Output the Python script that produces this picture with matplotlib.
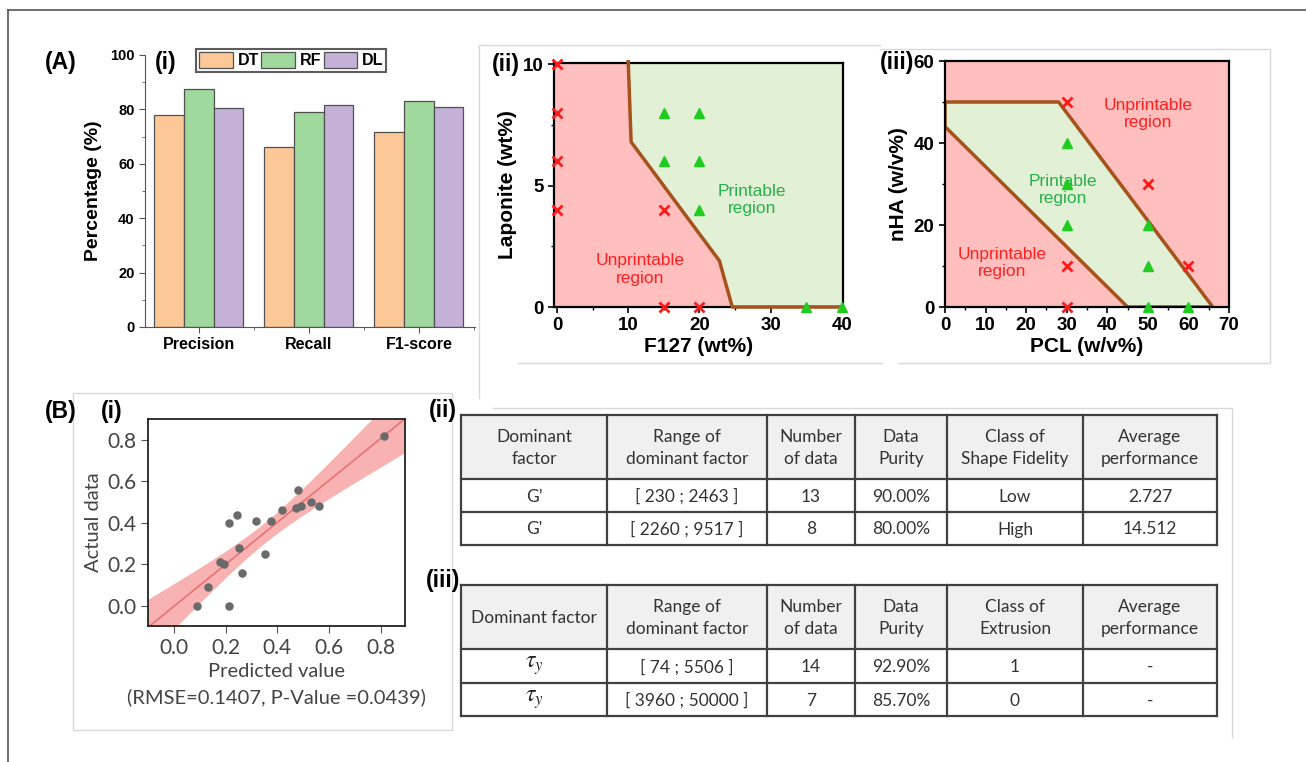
import numpy as np
import matplotlib
matplotlib.use("Agg")
import matplotlib.pyplot as plt
from matplotlib.patches import Rectangle, Polygon
from matplotlib.ticker import MultipleLocator, FormatStrFormatter

plt.rcParams['font.family'] = ['Liberation Sans', 'DejaVu Sans']
plt.rcParams['mathtext.fontset'] = 'stix'

# ---- (A)(i) model scores
metrics = ["Precision", "Recall", "F1-score"]
models = ["DT", "RF", "DL"]
dt_scores = [78.0, 66.1, 71.8]
rf_scores = [87.5, 79.2, 83.1]
dl_scores = [80.4, 81.6, 80.8]

# ---- (A)(ii) F127 / Laponite printability
f127_fail = [0, 0, 0, 0, 15, 15, 20]
lap_fail = [10, 8, 6, 4, 4, 0, 0]
f127_ok = [15, 20, 15, 20, 20, 35, 40]
lap_ok = [8, 8, 6, 6, 4, 0, 0]
f127_edge = [10, 10.4, 22.8, 24.6, 40]
lap_edge = [10.1, 6.8, 1.9, 0, 0]

# ---- (A)(iii) PCL / nHA printability
pcl_fail = [30, 50, 60, 30, 30]
nha_fail = [50, 30, 10, 10, 0]
pcl_ok = [30, 30, 30, 50, 50, 50, 60]
nha_ok = [40, 30, 20, 20, 10, 0, 0]
pcl_edge = [0, 28, 66, 45, 0]
nha_edge = [50, 50, 0, 0, 44]

# ---- (B)(i) predicted vs actual
pred_vals = [0.088, 0.130, 0.178, 0.193, 0.213, 0.214, 0.245, 0.250, 0.265, 0.317,
             0.352, 0.375, 0.416, 0.471, 0.479, 0.493, 0.528, 0.560, 0.810]
actual_vals = [0.00, 0.09, 0.21, 0.20, 0.40, 0.00, 0.44, 0.28, 0.16, 0.41,
               0.25, 0.41, 0.46, 0.47, 0.56, 0.48, 0.50, 0.48, 0.82]
t_crit = 2.11

# ---- (B)(ii)/(iii) tables
fidelity_header = ["Dominant\nfactor", "Range of\ndominant factor", "Number\nof data",
                   "Data\nPurity", "Class of\nShape Fidelity", "Average\nperformance"]
fidelity_rows = [["G\u2019", "[ 230 ; 2463 ]", "13", "90.00%", "Low", "2.727"],
                 ["G'", "[ 2260 ; 9517 ]", "8", "80.00%", "High", "14.512"]]
extrusion_header = ["Dominant factor", "Range of\ndominant factor", "Number\nof data",
                    "Data\nPurity", "Class of\nExtrusion", "Average\nperformance"]
extrusion_rows = [[r"$\tau_y$", "[ 74 ; 5506 ]", "14", "92.90%", "1", "-"],
                  [r"$\tau_y$", "[ 3960 ; 50000 ]", "7", "85.70%", "0", "-"]]

W, H = 1306, 762
fig = plt.figure(figsize=(W / 100, H / 100), dpi=100)


def box(l, t, r, b):
    return [l / W, 1 - b / H, (r - l) / W, (b - t) / H]


# background layer for frames and tables (pixel coordinates)
bg = fig.add_axes([0, 0, 1, 1], zorder=0)
bg.set_xlim(0, W)
bg.set_ylim(H, 0)
bg.axis('off')

frame = '#d9d9d9'
bg.plot([8, 8], [10, H], color='#555555', lw=1.2)
bg.plot([8, W], [10, 10], color='#555555', lw=1.2)
bg.add_patch(Rectangle((73, 393), 379, 337, fill=False, ec=frame, lw=1))
bg.plot([493, 1232, 1232], [408, 408, 737], color=frame, lw=1)
bg.plot([479, 479], [45, 398], color=frame, lw=1)
bg.plot([518, 882], [363, 363], color=frame, lw=1)
bg.plot([480, 880], [45, 45], color=frame, lw=1)
bg.plot([880, 1270, 1270, 898], [49, 49, 363, 363], color=frame, lw=1)

col_edges = [461, 607, 767, 855, 947, 1083, 1217]


def draw_table(top, heights, header, rows):
    ys = np.cumsum([top] + heights)
    txt = dict(fontsize=12.5, color='#333333', ha='center', va='center',
               family=['Lato', 'DejaVu Sans'], linespacing=1.45)
    bg.add_patch(Rectangle((col_edges[0], ys[0]), col_edges[-1] - col_edges[0],
                           ys[1] - ys[0], fc='#f0f0f0', ec='none'))
    for r, cells in enumerate([header] + rows):
        yc = (ys[r] + ys[r + 1]) / 2
        for c, s in enumerate(cells):
            xc = (col_edges[c] + col_edges[c + 1]) / 2
            if s.startswith('$'):
                bg.text(xc, yc, s, fontsize=17, color='#222222', ha='center', va='center')
            else:
                bg.text(xc, yc + 1, s, **txt)
    for y in ys:
        bg.plot([col_edges[0], col_edges[-1]], [y, y], color='#404040', lw=1.6)
    for x in col_edges:
        bg.plot([x, x], [ys[0], ys[-1]], color='#404040', lw=1.6)


draw_table(415, [64, 33, 33], fidelity_header, fidelity_rows)
draw_table(585, [64, 34, 33], extrusion_header, extrusion_rows)

# ---- (A)(i) bar chart
ax1 = fig.add_axes(box(145, 55, 475, 327), zorder=2)
x = np.arange(len(metrics))
bw = 0.27
colors = ['#fdc898', '#9fd99d', '#c3b1d8']
for i, (vals, name, c) in enumerate(zip([dt_scores, rf_scores, dl_scores], models, colors)):
    ax1.bar(x + (i - 1) * bw, vals, bw, color=c, edgecolor='#505050', lw=0.9, label=name)
ax1.set_xlim(-0.49, 2.51)
ax1.set_ylim(0, 100)
ax1.set_xticks(x)
ax1.set_xticklabels(metrics, fontsize=11.5, fontweight='bold')
ax1.xaxis.set_minor_locator(MultipleLocator(0.5))
ax1.set_yticks(range(0, 101, 20))
ax1.yaxis.set_minor_locator(MultipleLocator(10))
for t in ax1.get_yticklabels():
    t.set_fontweight('bold')
    t.set_fontsize(10.5)
ax1.set_ylabel("Percentage (%)", fontsize=14, fontweight='bold', labelpad=6)
for s in ['top', 'right']:
    ax1.spines[s].set_visible(False)
for s in ['left', 'bottom']:
    ax1.spines[s].set_color('#555555')
ax1.tick_params(which='major', length=4, color='#555555')
ax1.tick_params(which='minor', length=2.5, color='#555555')
leg = ax1.legend(loc='upper left', bbox_to_anchor=(0.155, 1.022), ncol=3,
                 prop={'weight': 'bold', 'size': 11.5}, frameon=True, fancybox=False,
                 handlelength=2.1, handleheight=1.1, columnspacing=0.15, handletextpad=0.3,
                 borderpad=0.2, borderaxespad=0)
leg.get_frame().set_edgecolor('#333333')
leg.get_frame().set_linewidth(1.5)
for p in leg.get_patches():
    p.set_edgecolor('#505050')

red_fill = '#ffbfbf'
green_fill = '#e2f0d6'
edge_col = '#a5521c'
ok_col = '#1fcc1f'
fail_col = '#ff1a1a'
reg_green = '#28b04a'
reg_red = '#ff2020'


def style_map(ax):
    for s in ax.spines.values():
        s.set_linewidth(1.6)
        s.set_color('black')
    ax.tick_params(which='major', direction='out', length=4, width=1.2, labelsize=13.5)
    ax.tick_params(which='minor', direction='out', length=2.5, width=1.0)
    for t in ax.get_xticklabels() + ax.get_yticklabels():
        t.set_fontweight('bold')


# ---- (A)(ii)
ax2 = fig.add_axes(box(554, 63, 843, 307), zorder=2)
ax2.set_facecolor(green_fill)
xl, yl = (-0.42, 40.14), (0, 10.05)
ax2.add_patch(Polygon([(xl[0], yl[0]), (xl[0], yl[1])] + list(zip(f127_edge[:4], lap_edge[:4])),
                      closed=True, fc=red_fill, ec='none'))
ax2.plot(f127_edge, lap_edge, color=edge_col, lw=2.5, clip_on=False, zorder=3)
ax2.plot(f127_fail, lap_fail, 'x', color=fail_col, ms=7, mew=2, clip_on=False, zorder=4)
ax2.plot(f127_ok, lap_ok, '^', color=ok_col, ms=6.5, mec=ok_col, clip_on=False, zorder=4)
ax2.text(27.4, 4.4, "Printable\nregion", color=reg_green, fontsize=12.5, ha='center', va='center')
ax2.text(11.7, 1.55, "Unprintable\nregion", color=reg_red, fontsize=12.5, ha='center', va='center')
ax2.set_xlim(*xl)
ax2.set_ylim(*yl)
ax2.set_xticks(range(0, 41, 10))
ax2.set_yticks([0, 5, 10])
ax2.xaxis.set_minor_locator(MultipleLocator(5))
ax2.yaxis.set_minor_locator(MultipleLocator(2.5))
style_map(ax2)
ax2.set_xlabel("F127 (wt%)", fontsize=15, fontweight='bold', labelpad=2)
ax2.set_ylabel("Laponite (wt%)", fontsize=15, fontweight='bold', labelpad=4)

# ---- (A)(iii)
ax3 = fig.add_axes(box(945, 61, 1229, 307), zorder=2)
ax3.set_facecolor(red_fill)
ax3.add_patch(Polygon(list(zip(pcl_edge, nha_edge)), closed=True, fc=green_fill,
                      ec=edge_col, lw=2.5, zorder=2))
ax3.plot(pcl_fail, nha_fail, 'x', color=fail_col, ms=7, mew=2, clip_on=False, zorder=4)
ax3.plot(pcl_ok, nha_ok, '^', color=ok_col, ms=6.5, mec=ok_col, clip_on=False, zorder=4)
ax3.text(50, 47, "Unprintable\nregion", color=reg_red, fontsize=12.5, ha='center', va='center')
ax3.text(29, 28.5, "Printable\nregion", color=reg_green, fontsize=12.5, ha='center', va='center')
ax3.text(14, 10.7, "Unprintable\nregion", color=reg_red, fontsize=12.5, ha='center', va='center')
ax3.set_xlim(0, 70)
ax3.set_ylim(0, 60)
ax3.set_xticks(range(0, 71, 10))
ax3.set_yticks(range(0, 61, 20))
ax3.xaxis.set_minor_locator(MultipleLocator(5))
ax3.yaxis.set_minor_locator(MultipleLocator(10))
style_map(ax3)
ax3.set_xlabel("PCL (w/v%)", fontsize=15, fontweight='bold', labelpad=2)
ax3.set_ylabel("nHA (w/v%)", fontsize=15, fontweight='bold', labelpad=4)

# ---- (B)(i) regression
ax4 = fig.add_axes(box(148, 419, 405, 626), zorder=2)
px = np.array(pred_vals)
py = np.array(actual_vals)
slope, intercept = np.polyfit(px, py, 1)
xx = np.linspace(-0.12, 0.92, 200)
n = len(px)
resid = py - (slope * px + intercept)
s_err = np.sqrt(np.sum(resid ** 2) / (n - 2))
band = t_crit * s_err * np.sqrt(1 / n + (xx - px.mean()) ** 2 / np.sum((px - px.mean()) ** 2))
fit = slope * xx + intercept
ax4.fill_between(xx, fit - band, fit + band, color='#f8a5a5', alpha=0.85, lw=0)
ax4.plot(xx, fit, color='#e57373', lw=1.2)
ax4.scatter(px, py, s=26, color='#6a6a6a', zorder=3)
ax4.set_xlim(-0.1, 0.893)
ax4.set_ylim(-0.096, 0.9)
ax4.set_xticks(np.arange(0, 0.81, 0.2))
ax4.set_yticks(np.arange(0, 0.81, 0.2))
ax4.xaxis.set_major_formatter(FormatStrFormatter('%.1f'))
ax4.yaxis.set_major_formatter(FormatStrFormatter('%.1f'))
for s in ax4.spines.values():
    s.set_linewidth(1.3)
    s.set_color('#222222')
ax4.tick_params(length=5, color='#555555', labelsize=15, labelcolor='#444444')
for t in ax4.get_xticklabels() + ax4.get_yticklabels():
    t.set_family(['Lato', 'DejaVu Sans'])
ax4.set_xlabel("Predicted value\n(RMSE=0.1407, P-Value =0.0439)", fontsize=14.5,
               color='#444444', family=['Lato', 'DejaVu Sans'], linespacing=1.5)
ax4.set_ylabel("Actual data", fontsize=14.5, color='#444444', family=['Lato', 'DejaVu Sans'])

# panel labels on top of everything
panel_labels = [("(A)", 61, 63), ("(i)", 166, 63), ("(ii)", 506, 64), ("(iii)", 897, 62),
                ("(B)", 61, 411), ("(i)", 112, 411), ("(ii)", 443, 410), ("(iii)", 443, 580)]
for s, lx, ly in panel_labels:
    fig.text(lx / W, 1 - ly / H, s, fontsize=16.5, fontweight='bold', ha='center',
             va='center', zorder=10)

fig.savefig("out.png", dpi=100)
